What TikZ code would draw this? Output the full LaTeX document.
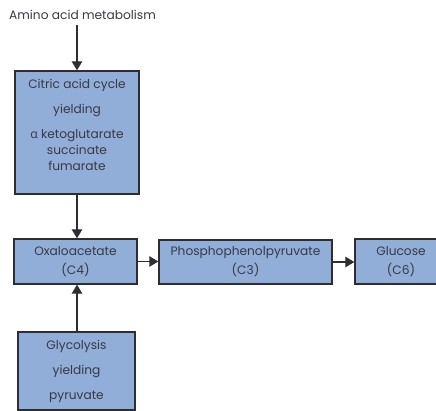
\documentclass[tikz,border=0pt]{standalone}
\usepackage{fontspec}
\setmainfont{Poppins}
\newfontfamily\greekfont{Open Sans}
\usetikzlibrary{arrows.meta}
\definecolor{boxfill}{RGB}{145,174,216}
\definecolor{boxline}{RGB}{45,45,50}
\definecolor{inktext}{RGB}{55,57,68}
\begin{document}
\begin{tikzpicture}[x=1pt,y=-1pt,
  stagebox/.style={draw=boxline,line width=1.4pt,fill=boxfill,inner sep=0pt},
  label/.style={text=inktext,align=center,inner sep=0pt,font=\fontsize{12.2}{16}\selectfont},
  flow/.style={draw=boxline,line width=1.3pt,-{Triangle[length=9pt,width=10.5pt]}}]
\useasboundingbox (0,0) rectangle (436,411);
\clip (0,0) rectangle (436,411);
% source label
\node[label,anchor=center] (amino) at (82.5,15) {Amino acid metabolism};
% boxes
\node[stagebox,minimum width=124pt,minimum height=123pt] (citric) at (77,132.5) {};
\node[stagebox,minimum width=123pt,minimum height=45pt] (oxalo) at (75.5,261.5) {};
\node[stagebox,minimum width=173pt,minimum height=44pt] (pep) at (245.5,262) {};
\node[stagebox,minimum width=92pt,minimum height=45pt] (glucose) at (401,261.5) {};
\node[stagebox,minimum width=117pt,minimum height=78pt] (glyco) at (76.5,371) {};
% box texts
\node[label,anchor=north] (citrictext) at (77,79) {Citric acid cycle\\[9pt]yielding\\[9pt]{\greekfont α} ketoglutarate\\succinate\\fumarate};
\node[label,font=\fontsize{12.2}{19}\selectfont] (oxalotext) at (oxalo) {Oxaloacetate\\(C4)};
\node[label,font=\fontsize{12.2}{19}\selectfont] (peptext) at (pep) {Phosphophenolpyruvate\\(C3)};
\node[label,font=\fontsize{12.2}{19}\selectfont] (glucosetext) at (glucose) {Glucose\\(C6)};
\node[label,font=\fontsize{12.2}{25}\selectfont] (glycotext) at (glyco) {Glycolysis\\yielding\\pyruvate};
% connectors
\coordinate (aminofoot) at (77,25);
\draw[flow] (aminofoot) -- (citric.north);
\draw[flow] (citric.south) -- (citric.south |- oxalo.north);
\draw[flow] (glyco.north -| citric.south) -- (citric.south |- oxalo.south);
\draw[flow] (oxalo.east) -- (oxalo.east -| pep.west);
\draw[flow] (pep.east) -- (pep.east -| glucose.west);
\end{tikzpicture}
\end{document}
